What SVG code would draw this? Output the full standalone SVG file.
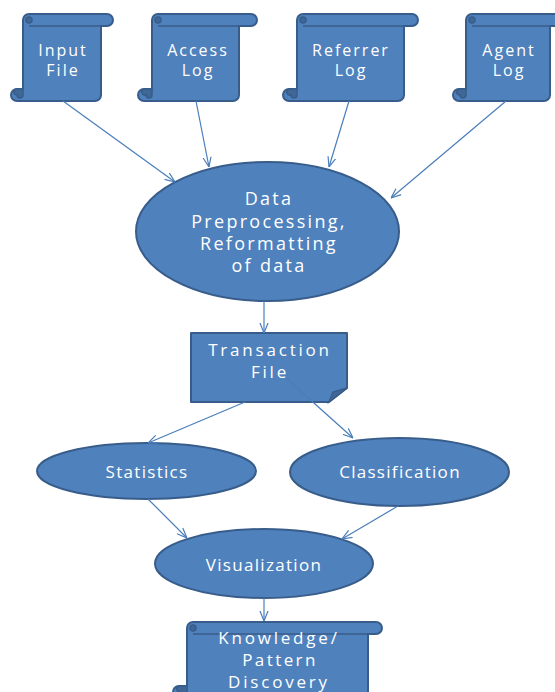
<svg xmlns="http://www.w3.org/2000/svg" width="555" height="692" viewBox="0 0 555 692">
<defs>
<style>
.shape{fill:#4F81BD;stroke:#385D8A;stroke-width:2;stroke-linejoin:round}
.dark{fill:#3F6797;stroke:#385D8A;stroke-width:1.5}
.det{fill:none;stroke:#385D8A;stroke-width:1.5}
.t{fill:#FFFFFF;font-family:"Open Sans","Liberation Sans",sans-serif;text-anchor:middle}
.s17{font-size:16px;letter-spacing:2px}
.s18{font-size:18px;letter-spacing:2.3px}
.k17{font-size:17px;letter-spacing:2.8px}
.e17{font-size:17px;letter-spacing:1.3px}
.conn{fill:none;stroke:#4A7EBB;stroke-width:1.2}
</style>
<marker id="arr" viewBox="0 0 10 10" refX="10" refY="5" markerWidth="10" markerHeight="10" markerUnits="userSpaceOnUse" orient="auto">
<path d="M0,1 L10,5 L0,9" fill="none" stroke="#4A7EBB" stroke-width="1.2"/>
</marker>
</defs>
<rect width="555" height="692" fill="#FFFFFF"/>

<g id="input-file">
<path class="shape" d="M23,20 A6,6 0 0 1 29,14 H107 A6,6 0 0 1 107,26 H101 V95 A6,6 0 0 1 95,101 H17 A6,6 0 0 1 17,89 H23 Z"/>
<path class="det" d="M29,26 H101"/>
<circle class="dark" cx="29" cy="20" r="3"/>
<path class="dark" d="M17,89 H23 V95 A3,3 0 0 1 17,95 A3,3 0 0 1 17,89 Z"/>
<text class="t s17" x="63" y="56">Input</text>
<text class="t s17" x="63" y="76">File</text>
</g>

<g id="access-log">
<path class="shape" d="M152,20 A6,6 0 0 1 158,14 H251 A6,6 0 0 1 251,26 H239 V95 A6,6 0 0 1 233,101 H144 A6,6 0 0 1 144,89 H152 Z"/>
<path class="det" d="M158,26 H239"/>
<circle class="dark" cx="158" cy="20" r="3"/>
<path class="dark" d="M144,89 H152 V95 A3,3 0 0 1 146,95 A3,3 0 0 1 144,89 Z"/>
<text class="t s17" x="198" y="56">Access</text>
<text class="t s17" x="198" y="76">Log</text>
</g>

<g id="referrer-log">
<path class="shape" d="M297,20 A6,6 0 0 1 303,14 H412 A6,6 0 0 1 412,26 H404 V95 A6,6 0 0 1 398,101 H289 A6,6 0 0 1 289,89 H297 Z"/>
<path class="det" d="M303,26 H404"/>
<circle class="dark" cx="303" cy="20" r="3"/>
<path class="dark" d="M289,89 H297 V95 A3,3 0 0 1 291,95 A3,3 0 0 1 289,89 Z"/>
<text class="t s17" x="351" y="56">Referrer</text>
<text class="t s17" x="351" y="76">Log</text>
</g>

<g id="agent-log">
<path class="shape" d="M466,20 A6,6 0 0 1 472,14 H560 A6,6 0 0 1 560,26 H550 V95 A6,6 0 0 1 544,101 H459 A6,6 0 0 1 459,89 H466 Z"/>
<path class="det" d="M472,26 H550"/>
<circle class="dark" cx="472" cy="20" r="3"/>
<path class="dark" d="M459,89 H466 V95 A3,3 0 0 1 460,95 A3,3 0 0 1 459,89 Z"/>
<text class="t s17" x="509" y="56">Agent</text>
<text class="t s17" x="509" y="76">Log</text>
</g>

<g id="data-preprocessing">
<ellipse class="shape" cx="267.5" cy="231.5" rx="131.5" ry="69.5"/>
<text class="t s18" x="269" y="205">Data</text>
<text class="t s18" x="269" y="228">Preprocessing,</text>
<text class="t s18" x="269" y="250">Reformatting</text>
<text class="t s18" x="269" y="272">of data</text>
</g>

<g id="transaction-file">
<path class="shape" d="M191,333 H347 V388 L329,402 H191 Z"/>
<path class="dark" d="M329,402 L333,392 L347,388 Z"/>
<text class="t k17" x="270" y="356">Transaction</text>
<text class="t k17" x="270" y="378">File</text>
</g>

<g id="statistics">
<ellipse class="shape" cx="146.5" cy="471" rx="109.5" ry="28"/>
<text class="t e17" x="147" y="478">Statistics</text>
</g>

<g id="classification">
<ellipse class="shape" cx="399.5" cy="472" rx="109.5" ry="34"/>
<text class="t e17" x="400" y="478">Classification</text>
</g>

<g id="visualization">
<ellipse class="shape" cx="264" cy="563.5" rx="109" ry="34.5"/>
<text class="t e17" x="264" y="571">Visualization</text>
</g>

<g id="knowledge-discovery">
<path class="shape" d="M187,628 A6,6 0 0 1 193,622 H376 A6,6 0 0 1 376,634 H368 V692 A6,6 0 0 1 362,698 H179 A6,6 0 0 1 179,686 H187 Z"/>
<path class="det" d="M193,634 H368"/>
<circle class="dark" cx="193" cy="628" r="3"/>
<path class="dark" d="M179,686 H187 V692 A3,3 0 0 1 181,692 A3,3 0 0 1 179,686 Z"/>
<text class="t k17" x="279" y="644">Knowledge/</text>
<text class="t k17" x="280" y="666" style="letter-spacing:2.4px">Pattern</text>
<text class="t k17" x="279" y="688">Discovery</text>
</g>

<g id="connectors">
<line class="conn" x1="63" y1="101" x2="175" y2="182" marker-end="url(#arr)"/>
<line class="conn" x1="196" y1="101" x2="209" y2="167" marker-end="url(#arr)"/>
<line class="conn" x1="349" y1="101" x2="329" y2="167" marker-end="url(#arr)"/>
<line class="conn" x1="506" y1="101" x2="391" y2="198" marker-end="url(#arr)"/>
<line class="conn" x1="264" y1="301" x2="264" y2="333" marker-end="url(#arr)"/>
<line class="conn" x1="245" y1="402" x2="148" y2="443" marker-end="url(#arr)"/>
<line class="conn" x1="286" y1="378" x2="353" y2="438" marker-end="url(#arr)"/>
<line class="conn" x1="148" y1="499" x2="187" y2="538" marker-end="url(#arr)"/>
<line class="conn" x1="398" y1="506" x2="342" y2="539" marker-end="url(#arr)"/>
<line class="conn" x1="264" y1="598" x2="264" y2="621" marker-end="url(#arr)"/>
</g>
</svg>
